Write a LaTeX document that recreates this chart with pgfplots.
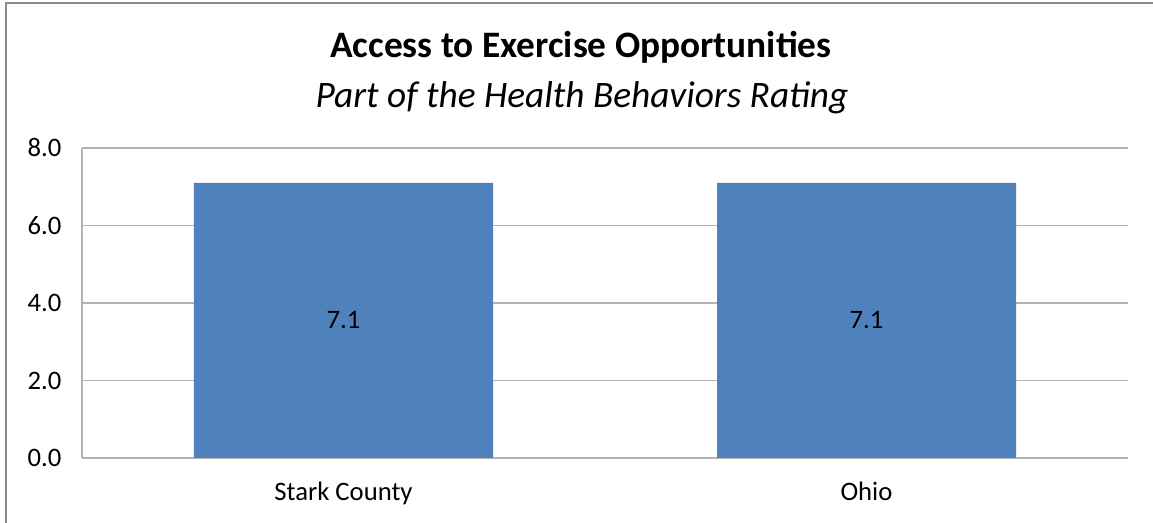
\documentclass[border=0pt]{standalone}
\usepackage{fontspec}
\setmainfont{Carlito}
\usepackage{pgfplots}
\pgfplotsset{compat=1.18}
\definecolor{barblue}{HTML}{4F81BD}
\definecolor{gridgray}{HTML}{B3B3B3}
\definecolor{framegray}{HTML}{8C8C8C}
\begin{document}
\begin{tikzpicture}[x=0.75pt,y=0.75pt]
\path[use as bounding box] (0,0) rectangle (1153,523);
\draw[framegray, line width=1.5pt] (6,-5) -- (6,520) -- (1160,520);
\node[font=\fontsize{28}{32}\selectfont\bfseries] at (581,476) {Access to Exercise Opportunities};
\node[font=\fontsize{28}{32}\selectfont\itshape] at (582,425) {Part of the Health Behaviors Rating};
\begin{axis}[
  at={(61.5pt,48.75pt)}, anchor=south west,
  scale only axis, width=784.5pt, height=232.5pt,
  xmin=-0.5, xmax=1.5, ymin=0, ymax=8,
  xtick=data, xticklabels={Stark County, Ohio},
  ytick={0,2,4,6,8},
  ymajorgrids, grid style={gridgray, line width=1.1pt},
  axis line style={gridgray, line width=1.1pt},
  axis x line*=bottom, axis y line*=left,
  major tick length=0pt,
  /pgf/number format/assume math mode=true,
  yticklabel={\pgfmathprintnumber[fixed,fixed zerofill,precision=1]{\tick}},
  tick label style={font=\fontsize{20}{24}\selectfont, black},
  yticklabel style={xshift=-12pt},
  xticklabel style={yshift=-14.5pt},
  ybar, bar width=224.25pt,
  nodes near coords,
  nodes near coords style={font=\fontsize{20}{24}\selectfont, black, anchor=center, yshift=-103.2pt,
    /pgf/number format/fixed, /pgf/number format/precision=1, /pgf/number format/assume math mode=true},
]
\addplot[fill=barblue, draw=none] coordinates {(0,7.1) (1,7.1)};
\end{axis}
\end{tikzpicture}
\end{document}
